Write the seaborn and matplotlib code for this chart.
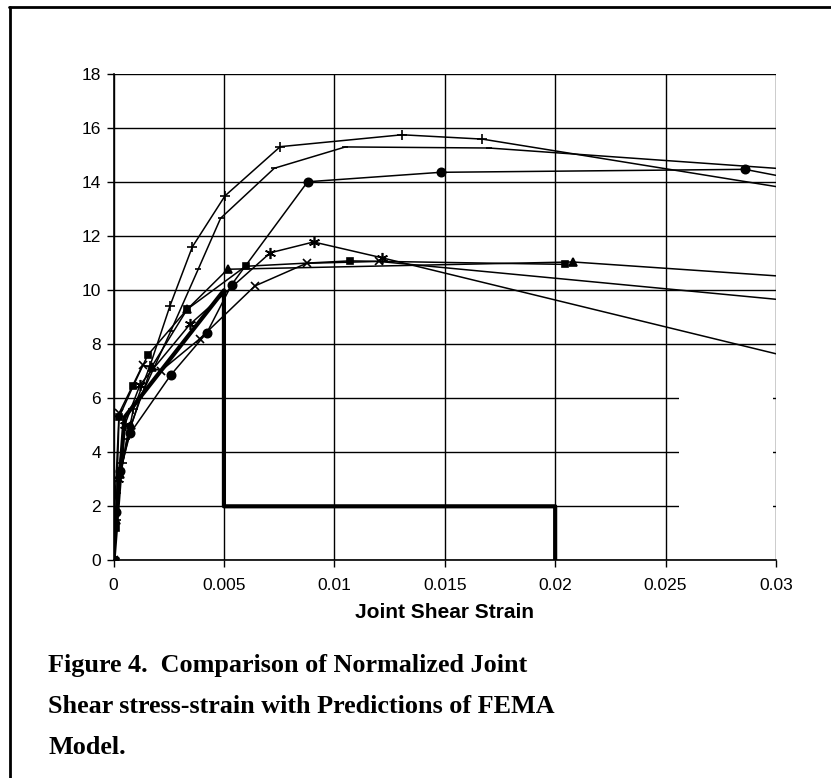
import matplotlib
matplotlib.use("Agg")
import matplotlib.pyplot as plt
import seaborn as sns

# joint shear strain / normalized joint shear stress
strain_plus = [0, 0.0001, 0.0004, 0.0009, 0.00165, 0.00256, 0.00357, 0.00505, 0.00755, 0.01307, 0.0167, 0.0310]
stress_plus = [0, 1.5, 3.6, 5.6, 7.2, 9.43, 11.61, 13.5, 15.32, 15.76, 15.6, 13.71]

strain_dash = [0, 0.0002, 0.0006, 0.0012, 0.0026, 0.00384, 0.00485, 0.00728, 0.0105, 0.0170, 0.0310]
stress_dash = [0, 2.5, 4.5, 6.0, 8.5, 10.79, 12.67, 14.52, 15.31, 15.27, 14.46]

strain_circle = [0, 0.0001, 0.0003, 0.00075, 0.00259, 0.00423, 0.00535, 0.00879, 0.01481, 0.02859, 0.0310]
stress_circle = [0, 1.8, 3.3, 4.7, 6.86, 8.43, 10.21, 14.02, 14.37, 14.48, 14.10]

strain_star = [0, 0.0002, 0.0005, 0.0012, 0.00346, 0.0071, 0.00906, 0.01218, 0.0310]
stress_star = [0, 3.0, 5.0, 6.5, 8.74, 11.39, 11.79, 11.2, 7.45]

strain_x = [0, 0.00002, 0.00025, 0.00132, 0.00215, 0.0039, 0.0064, 0.00874, 0.01201, 0.0310]
stress_x = [0, 1.24, 5.44, 7.23, 7.02, 8.2, 10.16, 11.0, 11.07, 9.59]

strain_square = [0, 0.0001, 0.00025, 0.0009, 0.00155, 0.00334, 0.00598, 0.0107, 0.02046]
stress_square = [0, 1.2, 5.3, 6.47, 7.6, 9.3, 10.89, 11.09, 10.96]

strain_tri = [0, 0.0001, 0.0003, 0.0008, 0.00173, 0.00334, 0.00517, 0.0208, 0.0310]
stress_tri = [0, 1.5, 3.2, 5.0, 7.17, 9.3, 10.78, 11.05, 10.48]

strain_fema = [0, 0.0005, 0.005, 0.005, 0.02, 0.02]
stress_fema = [0, 5.3, 10, 2, 2, 0]

x_ticks = [0, 0.005, 0.01, 0.015, 0.02, 0.025, 0.03]
x_tick_labels = ["0", "0.005", "0.01", "0.015", "0.02", "0.025", "0.03"]
y_ticks = [0, 2, 4, 6, 8, 10, 12, 14, 16, 18]

caption_lines = ["Figure 4.  Comparison of Normalized Joint",
                 "Shear stress-strain with Predictions of FEMA",
                 "Model."]

sns.set_style("white")
plt.rcParams["font.family"] = ["Liberation Sans", "DejaVu Sans"]
plt.rcParams["text.color"] = "black"
plt.rcParams["axes.labelcolor"] = "black"

fig = plt.figure(figsize=(8.31, 7.78), dpi=100)
ax = fig.add_axes([0.1366, 0.2798, 0.7972, 0.6247])

series = [
    (strain_plus, stress_plus, "+", 7),
    (strain_dash, stress_dash, "_", 5),
    (strain_circle, stress_circle, "o", 6),
    (strain_star, stress_star, (6, 2, 0), 8),
    (strain_x, stress_x, "x", 6),
    (strain_square, stress_square, "s", 5),
    (strain_tri, stress_tri, "^", 6),
]
for xs, ys, mk, ms in series:
    sns.lineplot(x=xs, y=ys, ax=ax, sort=False, estimator=None, color="black",
                 linewidth=1.1, marker=mk, markersize=ms, markeredgewidth=1.2,
                 markeredgecolor="black", markerfacecolor="black", zorder=3)

sns.lineplot(x=strain_fema, y=stress_fema, ax=ax, sort=False, estimator=None,
             color="black", linewidth=3.0, zorder=4)

ax.set_xlim(0, 0.03)
ax.set_ylim(0, 18)
ax.set_xticks(x_ticks)
ax.set_xticklabels(x_tick_labels)
ax.set_yticks(y_ticks)
ax.grid(True, axis="both", color="black", linewidth=1.0)
ax.set_axisbelow(True)
ax.tick_params(axis="both", direction="out", length=5, width=1, labelsize=12.5,
               colors="black", left=True, bottom=True)
ax.tick_params(axis="x", pad=8)
ax.tick_params(axis="y", pad=4)

for side in ["top", "right"]:
    ax.spines[side].set_visible(False)
for side in ["left", "bottom"]:
    ax.spines[side].set_color("black")
    ax.spines[side].set_linewidth(1.2)

# blank patch where the lower right gridlines are missing
ax.add_patch(plt.Rectangle((0.0256, 0.1), 0.00425, 6.6, facecolor="white",
                           edgecolor="none", zorder=1))

ax.set_xlabel("Joint Shear Strain", fontsize=15, fontweight="bold", labelpad=7)
ax.set_ylabel("")

for i, line in enumerate(caption_lines):
    fig.text(0.058, 1 - (672 + 41 * i) / 778, line, fontsize=18.8, fontweight="bold",
             family=["Liberation Serif", "DejaVu Serif"], va="baseline", ha="left",
             color="black")

# page frame
fig.add_artist(plt.Line2D([0.012, 0.012], [0, 0.991], color="black", linewidth=2))
fig.add_artist(plt.Line2D([0.011, 1.0], [0.991, 0.991], color="black", linewidth=2))

fig.savefig("out.png", dpi=100)
